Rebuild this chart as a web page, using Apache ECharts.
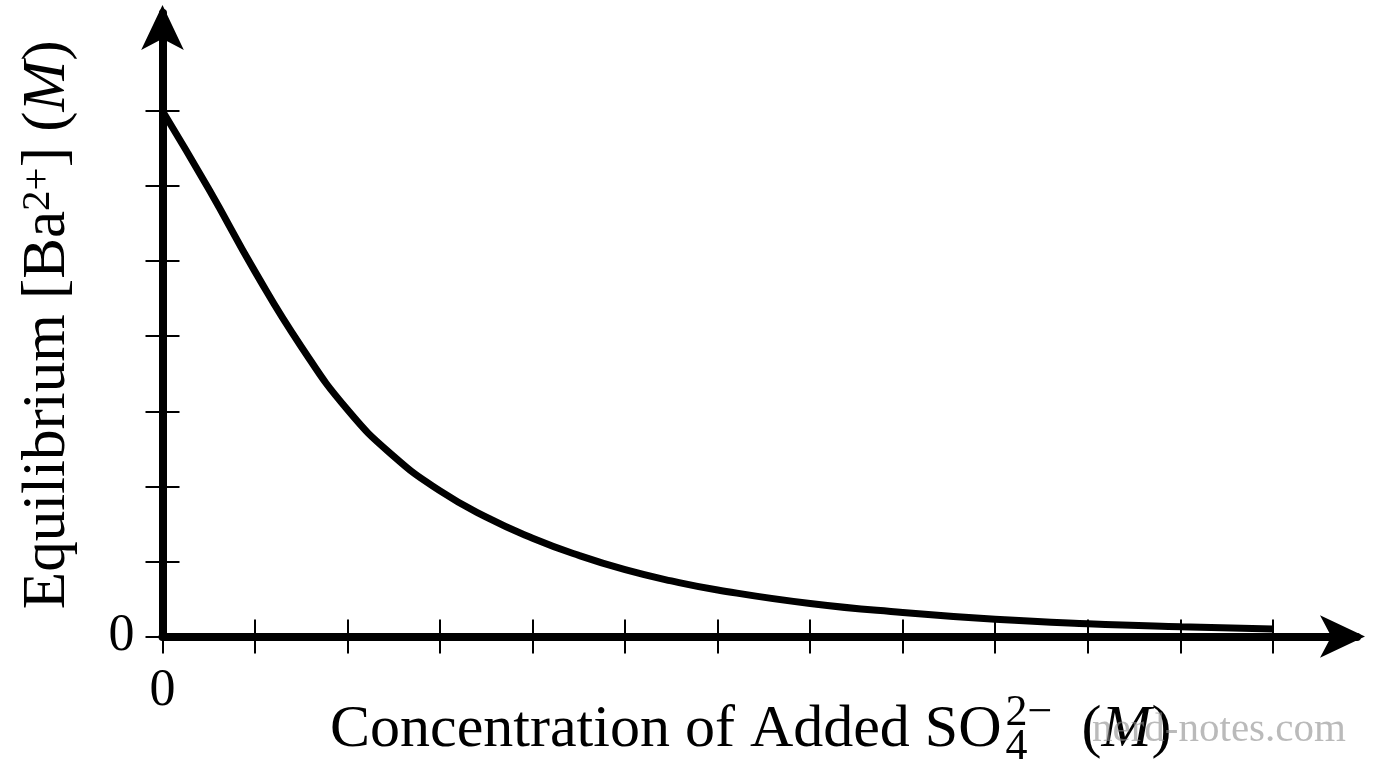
<!DOCTYPE html>
<html>
<head>
<meta charset="utf-8">
<title>Equilibrium Ba2+ vs added sulfate</title>
<script src="https://cdn.jsdelivr.net/npm/echarts@6/dist/echarts.min.js"></script>
<style>
	html, body { margin: 0; padding: 0; background: #fff; }
	#chart { width: 1376px; height: 768px; }
</style>
</head>
<body>
<div id="chart"></div>
<script>
(function() {
	'use strict';

	// ---------------- data ----------------
	var addedSulfate = [0, 0.5, 1, 1.5, 2, 2.5, 3, 3.5, 4, 4.5, 5, 5.5, 6, 7, 8, 9, 10, 11, 12];
	var bariumEq = [7.0, 5.96, 4.86, 3.86, 3.02, 2.40, 1.94, 1.59, 1.31, 1.08, 0.89, 0.74, 0.62, 0.44, 0.32, 0.23, 0.17, 0.13, 0.10];
	var xTicks = [0, 1, 2, 3, 4, 5, 6, 7, 8, 9, 10, 11, 12];
	var yTicks = [0, 1, 2, 3, 4, 5, 6, 7];
	var xTickLabels = [0];
	var yTickLabels = [0];

	var serif = '"Liberation Serif", "DejaVu Serif", serif';
	var black = '#000';

	var chart = echarts.init(document.getElementById('chart'));

	var points = addedSulfate.map(function(x, i) {
		return [x, bariumEq[i]];
	});

	// measure text for the x title (sub/superscript stacked)
	var ctx = document.createElement('canvas').getContext('2d');
	function textWidth(str, size) {
		ctx.font = size + 'px ' + serif;
		return ctx.measureText(str).width;
	}

	var mainSize = 60;
	var scriptSize = 44;
	var titleX = 330;
	var mainText = 'Concentration of Added SO';
	var w1 = textWidth(mainText, mainSize);
	var supX = titleX + w1 + 4;
	var restX = titleX + w1 + 80;

	var option = {
		animation: false,
		backgroundColor: '#fff',
		grid: {
			left: 162.5,
			right: 19,
			top: 13,
			bottom: 131.5
		},
		xAxis: [{
			type: 'value',
			position: 'bottom',
			min: 0,
			max: 12.91,
			axisLine: {
				onZero: false,
				symbol: ['none', 'arrow'],
				symbolSize: [32, 45],
				symbolOffset: [0, 8],
				lineStyle: { color: black, width: 8 }
			},
			axisTick: {
				customValues: xTicks,
				inside: false,
				length: 17,
				lineStyle: { color: black, width: 2 }
			},
			axisLabel: {
				customValues: xTickLabels,
				margin: 29,
				fontFamily: serif,
				fontSize: 52,
				color: black
			},
			splitLine: { show: false }
		}, {
			type: 'value',
			position: 'bottom',
			min: 0,
			max: 12.91,
			axisLine: { show: false, onZero: false },
			axisTick: {
				customValues: xTicks.slice(1),
				inside: true,
				length: 17,
				lineStyle: { color: black, width: 2 }
			},
			axisLabel: { show: false },
			splitLine: { show: false }
		}],
		yAxis: [{
			type: 'value',
			position: 'left',
			min: 0,
			max: 8.305,
			name: 'Equilibrium [Ba{sup|2+}] ({it|M})',
			nameLocation: 'middle',
			nameRotate: 90,
			nameGap: 84,
			nameTextStyle: {
				fontFamily: serif,
				fontSize: 61,
				lineHeight: 61,
				color: black,
				rich: {
					sup: { fontFamily: serif, fontSize: 41, lineHeight: 41, verticalAlign: 'top', color: black },
					it: { fontFamily: serif, fontSize: 61, lineHeight: 61, fontStyle: 'italic', color: black }
				}
			},
			axisLine: {
				onZero: false,
				symbol: ['none', 'arrow'],
				symbolSize: [32, 45],
				symbolOffset: [0, 8],
				lineStyle: { color: black, width: 8 }
			},
			axisTick: {
				customValues: yTicks,
				inside: false,
				length: 17,
				lineStyle: { color: black, width: 2 }
			},
			axisLabel: {
				customValues: yTickLabels,
				margin: 28,
				fontFamily: serif,
				fontSize: 52,
				color: black
			},
			splitLine: { show: false }
		}, {
			type: 'value',
			position: 'left',
			min: 0,
			max: 8.305,
			axisLine: { show: false, onZero: false },
			axisTick: {
				customValues: yTicks.slice(1),
				inside: true,
				length: 17,
				lineStyle: { color: black, width: 2 }
			},
			axisLabel: { show: false },
			splitLine: { show: false }
		}],
		graphic: [{
			type: 'group',
			children: [{
				type: 'text',
				x: titleX,
				y: 730,
				style: { text: mainText, font: mainSize + 'px ' + serif, fill: black, verticalAlign: 'middle' }
			}, {
				type: 'text',
				x: supX,
				y: 713,
				style: { text: '2\u2212', font: scriptSize + 'px ' + serif, fill: black, verticalAlign: 'middle' }
			}, {
				type: 'text',
				x: supX,
				y: 747,
				style: { text: '4', font: scriptSize + 'px ' + serif, fill: black, verticalAlign: 'middle' }
			}, {
				type: 'text',
				x: restX,
				y: 730,
				style: {
					text: '({it|M})',
					font: mainSize + 'px ' + serif,
					fill: black,
					verticalAlign: 'middle',
					rich: { it: { fontFamily: serif, fontSize: mainSize, fontStyle: 'italic', fill: black } }
				}
			}]
		}, {
			type: 'text',
			x: 1092,
			y: 730,
			z: 100,
			style: {
				text: 'nerd-notes.com',
				font: '41px ' + serif,
				fill: 'rgba(140,140,140,0.6)',
				verticalAlign: 'middle'
			}
		}],
		series: [{
			name: 'Equilibrium [Ba2+]',
			type: 'line',
			xAxisIndex: 0,
			yAxisIndex: 0,
			data: points,
			smooth: true,
			showSymbol: false,
			symbol: 'none',
			z: 5,
			lineStyle: { color: black, width: 7 }
		}]
	};
	chart.setOption(option);

	window.onresize = function() {
		chart.resize();
	};
})();
</script>
</body>
</html>
